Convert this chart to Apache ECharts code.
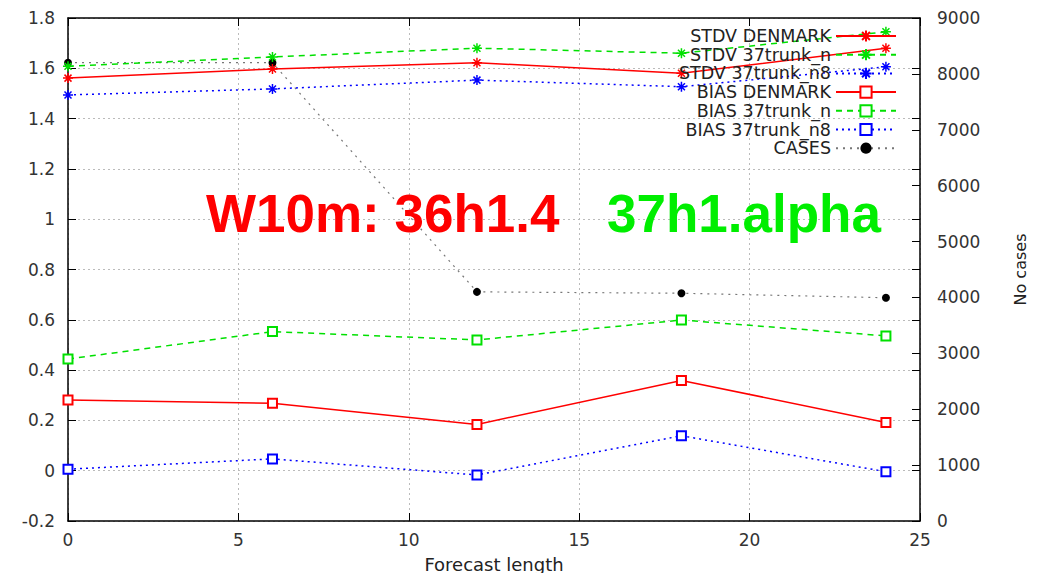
<!DOCTYPE html>
<html>
<head>
<meta charset="utf-8">
<script src="https://cdn.jsdelivr.net/npm/echarts@6/dist/echarts.min.js"></script>
<style>
  html, body { margin: 0; padding: 0; background: #fff; }
  #chart { width: 1055px; height: 573px; }
</style>
</head>
<body>
<div id="chart"></div>
<script>
// Forecast lead times (hours)
const forecastHours = [0, 6, 12, 18, 24];

// 10 m wind speed verification scores
const stdvDenmark   = [1.561, 1.597, 1.622, 1.580, 1.680];
const stdvTrunkN    = [1.608, 1.645, 1.680, 1.660, 1.745];
const stdvTrunkN8   = [1.494, 1.518, 1.553, 1.527, 1.606];
const biasDenmark   = [0.281, 0.268, 0.184, 0.359, 0.192];
const biasTrunkN    = [0.444, 0.553, 0.520, 0.599, 0.536];
const biasTrunkN8   = [0.006, 0.047, -0.017, 0.139, -0.004];

// Number of cases per lead time (right axis)
const cases         = [8200, 8200, 4100, 4075, 3995];

// Axis tick settings
const xTicks  = { min: 0, max: 25, step: 5 };
const yTicks  = { min: -0.2, max: 1.8, step: 0.2 };
const y2Ticks = { min: 0, max: 9000, step: 1000 };

const pairs = arr => forecastHours.map((h, i) => [h, arr[i]]);

const asterisk = 'path://M0,5L10,5M5,0L5,10M1.5,1.5L8.5,8.5M8.5,1.5L1.5,8.5';
const RED = '#ff0000', GREEN = '#00e000', BLUE = '#0000ff';
const tickFont = { fontFamily: 'DejaVu Sans', fontSize: 17, color: '#333' };

function stdvSeries(name, data, color, type) {
  return {
    name, type: 'line', data: pairs(data), yAxisIndex: 0,
    symbol: asterisk, symbolSize: 10,
    lineStyle: { color, width: 1.5, type },
    itemStyle: { color, borderColor: color, borderWidth: 1.5 },
    z: 3
  };
}
function biasSeries(name, data, color, type) {
  return {
    name, type: 'line', data: pairs(data), yAxisIndex: 0,
    symbol: 'emptyRect', symbolSize: 9,
    lineStyle: { color, width: 1.5, type },
    itemStyle: { color, borderColor: color, borderWidth: 1.2 },
    z: 3
  };
}

const chart = echarts.init(document.getElementById('chart'), null, { renderer: 'svg' });

chart.setOption({
  animation: false,
  backgroundColor: '#fff',
  grid: { left: 68, right: 135, top: 18, bottom: 52, outerBoundsMode: 'none', containLabel: false },
  legend: {
    orient: 'vertical',
    align: 'right',
    right: 158,
    top: 27,
    padding: 0,
    itemWidth: 60,
    itemHeight: 14,
    itemGap: 0.7,
    textStyle: { fontFamily: 'DejaVu Sans', fontSize: 17.5, lineHeight: 16, color: '#222' },
    data: ['STDV DENMARK', 'STDV 37trunk_n', 'STDV 37trunk_n8',
           'BIAS DENMARK', 'BIAS 37trunk_n', 'BIAS 37trunk_n8', 'CASES']
  },
  xAxis: [
    {
      type: 'value', position: 'bottom',
      min: xTicks.min, max: xTicks.max, interval: xTicks.step,
      name: 'Forecast length', nameLocation: 'middle', nameGap: 34,
      nameTextStyle: { fontFamily: 'DejaVu Sans', fontSize: 18, color: '#222' },
      axisLine: { show: true, onZero: false, lineStyle: { color: '#000', width: 1.5 } },
      axisTick: { inside: true, length: 8, lineStyle: { color: '#000' } },
      axisLabel: Object.assign({ margin: 10 }, tickFont),
      splitLine: { show: true, lineStyle: { color: '#bbb', type: [2, 3], width: 1 } }
    },
    {
      type: 'value', position: 'top',
      min: xTicks.min, max: xTicks.max, interval: xTicks.step,
      axisLine: { show: true, onZero: false, lineStyle: { color: '#000', width: 1.5 } },
      axisTick: { inside: true, length: 8, lineStyle: { color: '#000' } },
      axisLabel: { show: false },
      splitLine: { show: false }
    }
  ],
  yAxis: [
    {
      type: 'value', position: 'left',
      min: yTicks.min, max: yTicks.max, interval: yTicks.step,
      axisLine: { show: true, onZero: false, lineStyle: { color: '#000', width: 1.5 } },
      axisTick: { show: true, inside: true, length: 8, lineStyle: { color: '#000' } },
      axisLabel: Object.assign({
        margin: 13,
        formatter: v => String(Math.round(v * 10) / 10)
      }, tickFont),
      splitLine: { show: true, lineStyle: { color: '#bbb', type: [2, 3], width: 1 } }
    },
    {
      type: 'value', position: 'right',
      min: y2Ticks.min, max: y2Ticks.max, interval: y2Ticks.step,
      name: 'No cases', nameLocation: 'middle', nameRotate: 90, nameGap: 92,
      nameTextStyle: { fontFamily: 'DejaVu Sans', fontSize: 16, color: '#222' },
      axisLine: { show: true, onZero: false, lineStyle: { color: '#000', width: 1.5 } },
      axisTick: { show: true, inside: true, length: 8, lineStyle: { color: '#000' } },
      axisLabel: Object.assign({ margin: 17, formatter: v => String(v) }, tickFont),
      splitLine: { show: false }
    },
    {
      // mirrored left-axis ticks on the right border
      type: 'value', position: 'right',
      min: yTicks.min, max: yTicks.max, interval: yTicks.step,
      axisLine: { show: false, onZero: false },
      axisTick: { show: true, inside: true, length: 8, lineStyle: { color: '#000' } },
      axisLabel: { show: false },
      splitLine: { show: false }
    }
  ],
  graphic: [
    {
      type: 'text', left: 206, top: 187, z: 10,
      style: { text: 'W10m: 36h1.4', fill: '#ff0000',
               font: 'bold 53px "Liberation Sans", Arial, sans-serif' }
    },
    {
      type: 'text', left: 607, top: 187, z: 10,
      style: { text: '37h1.alpha', fill: '#00ee00',
               font: 'bold 53px "Liberation Sans", Arial, sans-serif' }
    }
  ],
  series: [
    stdvSeries('STDV DENMARK', stdvDenmark, RED, 'solid'),
    stdvSeries('STDV 37trunk_n', stdvTrunkN, GREEN, [6, 5]),
    stdvSeries('STDV 37trunk_n8', stdvTrunkN8, BLUE, [2, 4]),
    biasSeries('BIAS DENMARK', biasDenmark, RED, 'solid'),
    biasSeries('BIAS 37trunk_n', biasTrunkN, GREEN, [6, 5]),
    biasSeries('BIAS 37trunk_n8', biasTrunkN8, BLUE, [2, 4]),
    {
      name: 'CASES', type: 'line', data: pairs(cases), yAxisIndex: 1,
      symbol: 'circle', symbolSize: 8,
      lineStyle: { color: '#777', width: 1.2, type: [2, 5] },
      itemStyle: { color: '#000' },
      z: 2
    }
  ]
});
</script>
</body>
</html>
